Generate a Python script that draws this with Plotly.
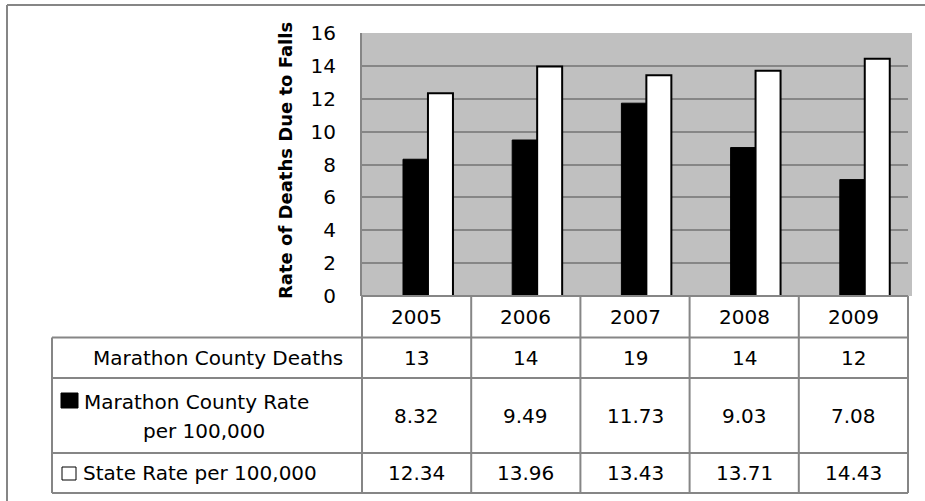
import plotly.graph_objects as go

years = ["2005", "2006", "2007", "2008", "2009"]
county_deaths = [13, 14, 19, 14, 12]
county_rate = [8.32, 9.49, 11.73, 9.03, 7.08]
state_rate = [12.34, 13.96, 13.43, 13.71, 14.43]
row_labels = ["Marathon County Deaths", "Marathon County Rate", "per 100,000", "State Rate per 100,000"]
y_title = "Rate of Deaths Due to Falls"
y_ticks = [0, 2, 4, 6, 8, 10, 12, 14, 16]

W, H = 925, 501
FONT = "DejaVu Sans"
GRID = "#868686"

def px(x):
    return x / W

def py(y):
    return 1 - y / H

# layout geometry (pixels)
X0, X1 = 362, 908
Y_TOP, Y_ZERO = 33, 296
ncol = len(years)
colw = (X1 - X0) / ncol
xs = list(range(ncol))

fig = go.Figure()
bw = 25 / colw
fig.add_trace(go.Bar(x=xs, y=county_rate, width=bw, offset=-0.1245,
                     marker=dict(color="black", line=dict(color="black", width=1)),
                     name="Marathon County Rate per 100,000"))
fig.add_trace(go.Bar(x=xs, y=state_rate, width=bw, offset=0.104,
                     marker=dict(color="white", line=dict(color="black", width=2)),
                     name="State Rate per 100,000"))

shapes = []
def hline(y, x0, x1, color=GRID, w=2):
    shapes.append(dict(type="line", xref="paper", yref="paper", x0=px(x0), x1=px(x1),
                       y0=py(y), y1=py(y), line=dict(color=color, width=w)))
def vline(x, y0, y1, color=GRID, w=2):
    shapes.append(dict(type="line", xref="paper", yref="paper", x0=px(x), x1=px(x),
                       y0=py(y0), y1=py(y1), line=dict(color=color, width=w)))

# extra gray strip at right of plot area
shapes.append(dict(type="rect", xref="paper", yref="paper", x0=px(X1), x1=px(912),
                   y0=py(Y_ZERO), y1=py(Y_TOP), fillcolor="#C0C0C0", line=dict(width=0), layer="below"))

# outer chart border
hline(5, 7, 925)
vline(7, 5, 501)

# table grid
LBL_X = 52
ROWS = [296, 337.5, 378, 453, 493]
hline(ROWS[0], X0, X1)
for r in ROWS[1:]:
    hline(r, LBL_X, X1)
vline(LBL_X, ROWS[1], ROWS[-1])
for k in range(ncol + 1):
    vline(X0 + k * colw, ROWS[0], ROWS[-1])

# legend keys
shapes.append(dict(type="rect", xref="paper", yref="paper", x0=px(61), x1=px(78),
                   y0=py(408), y1=py(393), fillcolor="black", line=dict(color="black", width=1)))
shapes.append(dict(type="rect", xref="paper", yref="paper", x0=px(62), x1=px(76),
                   y0=py(480), y1=py(467), fillcolor="white", line=dict(color="black", width=1)))

ann = []
FS = 20
def txt(x, y, s, size=FS, xanchor="center"):
    ann.append(dict(x=px(x), y=py(y), xref="paper", yref="paper", text=s, showarrow=False,
                    xanchor=xanchor, yanchor="middle",
                    font=dict(family=FONT, size=size, color="black")))

row_y = [(ROWS[0] + ROWS[1]) / 2, (ROWS[1] + ROWS[2]) / 2, (ROWS[2] + ROWS[3]) / 2, (ROWS[3] + ROWS[4]) / 2]
for i in range(ncol):
    cx = X0 + (i + 0.5) * colw
    txt(cx, row_y[0], years[i])
    txt(cx, row_y[1], str(county_deaths[i]))
    txt(cx, row_y[2], f"{county_rate[i]:.2f}")
    txt(cx, row_y[3], f"{state_rate[i]:.2f}")

txt(217.5, 358, row_labels[0])
txt(82, 402, row_labels[1], xanchor="left")
txt(204, 431, row_labels[2])
txt(81, 473, row_labels[3], xanchor="left")

ann.append(dict(x=px(285), y=py(161), xref="paper", yref="paper", text="<b>" + y_title + "</b>",
                showarrow=False, textangle=-90, xanchor="center", yanchor="middle",
                font=dict(family=FONT, size=18, color="black")))

fig.update_layout(
    width=W, height=H, margin=dict(l=0, r=0, t=0, b=0, autoexpand=False),
    paper_bgcolor="white", plot_bgcolor="#C0C0C0",
    showlegend=False, barmode="overlay",
    shapes=shapes, annotations=ann,
    xaxis=dict(domain=[px(X0), px(X1)], range=[-0.5, ncol - 0.5], showticklabels=False,
               showgrid=False, zeroline=False, ticks="", automargin=False),
    yaxis=dict(domain=[py(Y_ZERO), py(Y_TOP)], range=[0, 16], tickvals=y_ticks,
               showgrid=True, gridcolor=GRID, gridwidth=2, zeroline=False,
               showline=True, linecolor=GRID, linewidth=2, ticks="", automargin=False,
               ticklabelstandoff=20, tickfont=dict(family=FONT, size=20, color="black")),
)

fig.write_html("out.html")
